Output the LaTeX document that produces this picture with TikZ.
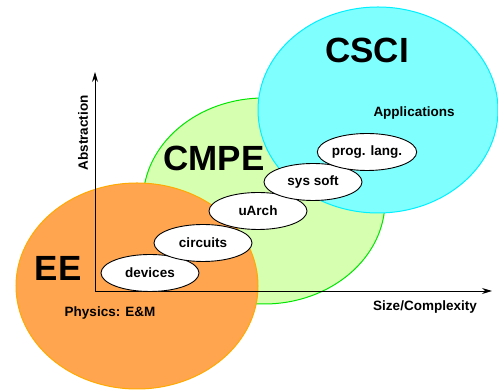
\documentclass[tikz,border=0pt]{standalone}
\usepackage{fontspec}
\setmainfont{Liberation Sans}
\usepackage{tikz}
\usetikzlibrary{shapes.geometric,arrows.meta}

\definecolor{eefill}{RGB}{255,165,79}
\definecolor{eeline}{RGB}{255,170,0}
\definecolor{cmpefill}{RGB}{214,255,176}
\definecolor{cmpeline}{RGB}{0,230,0}
\definecolor{cscifill}{RGB}{128,255,255}
\definecolor{csciline}{RGB}{0,240,255}

\tikzset{
  layer/.style={ellipse, draw=black, fill=white, line width=0.9pt,
    minimum width=98pt, minimum height=37pt, inner sep=0pt,
    font=\fontsize{13.5}{15}\selectfont\bfseries},
  fieldname/.style={font=\fontsize{35}{40}\selectfont\bfseries},
  smalltext/.style={font=\fontsize{13.5}{15}\selectfont\bfseries},
  axis/.style={-{Stealth[length=10pt,width=6pt]},line width=0.9pt}
}

\begin{document}
\begin{tikzpicture}[x=1pt,y=1pt]
\useasboundingbox (0,0) rectangle (498,390);

% Fields
\filldraw[fill=cmpefill,draw=cmpeline,line width=1pt] (264,189) ellipse (121 and 103);
\filldraw[fill=eefill,draw=eeline,line width=1pt] (137,104) ellipse (121 and 103);
\filldraw[fill=cscifill,draw=csciline,line width=1pt] (378,280) ellipse (120 and 103);

\node[fieldname] (ee) at (58,122) {EE};
\node[fieldname] (cmpe) at (214,232) {CMPE};
\node[fieldname] (csci) at (367,340) {CSCI};
\node[smalltext] (physics) at (110,77) {Physics: E\&M};
\node[smalltext] (apps) at (414,277) {Applications};

% Axes
\coordinate (origin) at (95,99);
\coordinate (ytop) at (95,318);
\coordinate (xend) at (492,99);
\draw[axis] (origin) -- (ytop);
\draw[axis] (origin) -- (xend);
\node[smalltext,rotate=90] (abstr) at (83,257) {Abstraction};
\node[smalltext] (size) at (425,83) {Size/Complexity};

% Layers
\node[layer] (devices) at (150,117) {devices};
\node[layer] (circuits) at (203,147) {circuits};
\node[layer] (uarch) at (258,179) {uArch};
\node[layer] (syssoft) at (313,208) {sys soft};
\node[layer] (proglang) at (367,238) {prog. lang.};

\end{tikzpicture}
\end{document}
